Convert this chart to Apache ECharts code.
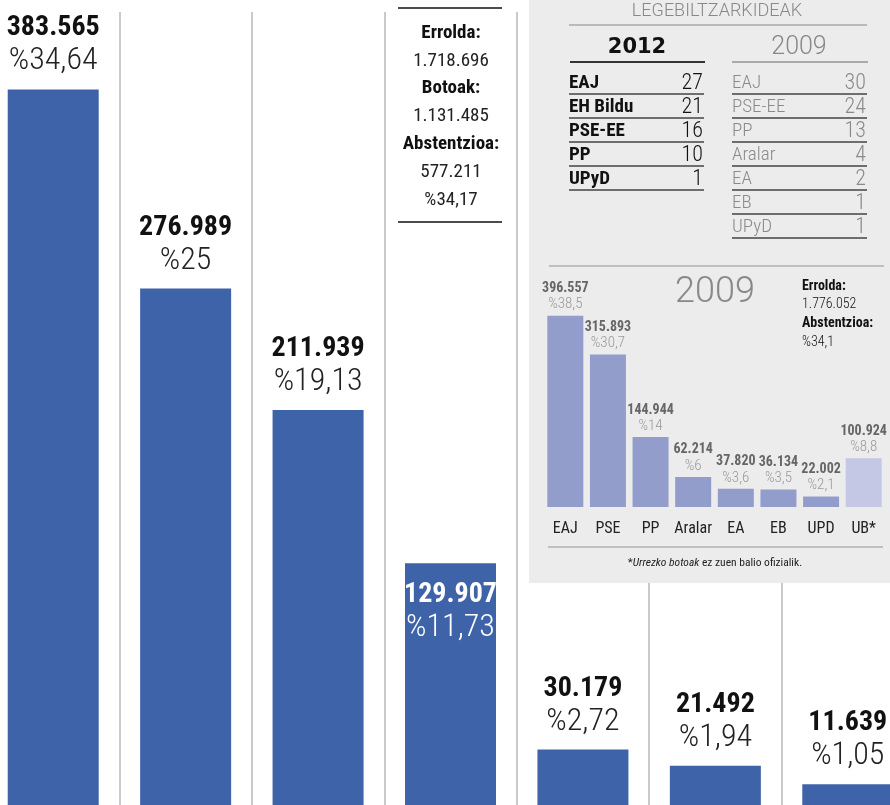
<!DOCTYPE html>
<html>
<head>
<meta charset="utf-8">
<script src="https://cdn.jsdelivr.net/npm/echarts@6/dist/echarts.min.js"></script>
<style>
  html, body { margin: 0; padding: 0; background: #fff; }
  #chart { width: 890px; height: 805px; }
</style>
</head>
<body>
<div id="chart"></div>
<script>
// 2012 emaitzak (botoak eta ehunekoak)
var parties2012 = ['EAJ', 'EH Bildu', 'PSE-EE', 'PP', 'EB', 'UPyD', 'Equo'];
var votes2012 = [383565, 276989, 211939, 129907, 30179, 21492, 11639];
var pct2012 = [34.64, 25, 19.13, 11.73, 2.72, 1.94, 1.05];

// 2012 laburpena
var summaryLabels = ['Errolda:', 'Botoak:', 'Abstentzioa:'];
var summaryValues = [['1.718.696'], ['1.131.485'], ['577.211', '%34,17']];

// legebiltzarkideak
var seatParties2012 = ['EAJ', 'EH Bildu', 'PSE-EE', 'PP', 'UPyD'];
var seats2012 = [27, 21, 16, 10, 1];
var seatParties2009 = ['EAJ', 'PSE-EE', 'PP', 'Aralar', 'EA', 'EB', 'UPyD'];
var seats2009 = [30, 24, 13, 4, 2, 1, 1];

// 2009 emaitzak
var parties2009 = ['EAJ', 'PSE', 'PP', 'Aralar', 'EA', 'EB', 'UPD', 'UB*'];
var votes2009 = [396557, 315893, 144944, 62214, 37820, 36134, 22002, 100924];
var pct2009 = [38.5, 30.7, 14, 6, 3.6, 3.5, 2.1, 8.8];
var census2009 = '1.776.052';
var abst2009 = '%34,1';

(function () {
  var myChart = echarts.init(document.getElementById('chart'));
  var NARROW = "'Roboto Condensed', 'Open Sans', sans-serif";
  var LIGHT = "Roboto, 'Liberation Sans', sans-serif";

  function fmt(v) {
    return String(v).replace(/\B(?=(\d{3})+(?!\d))/g, '.');
  }
  function fmtPct(v) {
    return '%' + String(v).replace('.', ',');
  }

  // PP barraren testua barruan, zuriz
  var mainData = votes2012.map(function (v, i) {
    if (i === 3) {
      return { value: v, label: { position: 'insideTop', distance: 16 } };
    }
    return v;
  });

  var graphics = [];
  // gris koadroa
  graphics.push({
    type: 'rect', z: 1, silent: true,
    shape: { x: 529, y: 0, width: 361, height: 583 },
    style: { fill: '#ebeceb' }
  });

  // erdiko laburpena
  graphics.push({ type: 'line', z: 10, shape: { x1: 398, y1: 8, x2: 502, y2: 8 }, style: { stroke: '#111', lineWidth: 1.5 } });
  var yy = 33;
  summaryLabels.forEach(function (lab, i) {
    graphics.push({
      type: 'text', z: 10, x: 451, y: yy,
      style: { text: lab, font: 'bold 19px ' + NARROW, fill: '#111', align: 'center', verticalAlign: 'middle' }
    });
    yy += 27.8;
    summaryValues[i].forEach(function (val) {
      graphics.push({
        type: 'text', z: 10, x: 451, y: yy,
        style: { text: val, font: '19px ' + NARROW, fill: '#222', align: 'center', verticalAlign: 'middle' }
      });
      yy += 27.8;
    });
  });
  graphics.push({ type: 'line', z: 10, shape: { x1: 398, y1: 222, x2: 502, y2: 222 }, style: { stroke: '#111', lineWidth: 1.5 } });

  // LEGEBILTZARKIDEAK
  graphics.push({
    type: 'text', z: 10, x: 717, y: 11,
    style: { text: 'LEGEBILTZARKIDEAK', font: '300 18px ' + LIGHT, fill: '#888', align: 'center', verticalAlign: 'middle' }
  });
  graphics.push({ type: 'line', z: 10, shape: { x1: 569, y1: 25, x2: 867, y2: 25 }, style: { stroke: '#aaa', lineWidth: 1.5 } });
  graphics.push({
    type: 'text', z: 10, x: 637, y: 48,
    style: { text: '2012', font: 'bold 21px "DejaVu Sans", sans-serif', fill: '#111', align: 'center', verticalAlign: 'middle' }
  });
  graphics.push({ type: 'line', z: 10, shape: { x1: 570, y1: 62, x2: 705, y2: 62 }, style: { stroke: '#333', lineWidth: 2 } });
  graphics.push({
    type: 'text', z: 10, x: 799, y: 48,
    style: { text: '2009', font: '300 25px ' + LIGHT, fill: '#888', align: 'center', verticalAlign: 'middle' }
  });
  graphics.push({ type: 'line', z: 10, shape: { x1: 732, y1: 62, x2: 868, y2: 62 }, style: { stroke: '#aaa', lineWidth: 2 } });

  function seatTable(names, seats, x0, x1, bold, color) {
    names.forEach(function (n, i) {
      var cy = 83 + i * 24;
      graphics.push({
        type: 'text', z: 10, x: x0, y: cy,
        style: { text: n, font: (bold ? 'bold ' : '300 ') + '19px ' + NARROW, fill: color, align: 'left', verticalAlign: 'middle' }
      });
      graphics.push({
        type: 'text', z: 10, x: x1, y: cy,
        style: { text: String(seats[i]), font: '300 22px ' + NARROW, fill: color, align: 'right', verticalAlign: 'middle' }
      });
      graphics.push({
        type: 'line', z: 10, shape: { x1: x0, y1: cy + 11, x2: x1 + 1, y2: cy + 11 },
        style: { stroke: '#444', lineWidth: 1.3 }
      });
    });
  }
  seatTable(seatParties2012, seats2012, 569, 703, true, '#111');
  seatTable(seatParties2009, seats2009, 732, 866, false, '#8a8a8a');

  // 2009 grafikoa
  graphics.push({ type: 'line', z: 10, shape: { x1: 549, y1: 266, x2: 884, y2: 266 }, style: { stroke: '#b0b0b0', lineWidth: 1.5 } });
  graphics.push({
    type: 'text', z: 10, x: 715, y: 293,
    style: { text: '2009', font: '300 36px ' + LIGHT, fill: '#888', align: 'center', verticalAlign: 'middle' }
  });
  [['Errolda:', true], [census2009, false], ['Abstentzioa:', true], [abst2009, false]].forEach(function (t, i) {
    graphics.push({
      type: 'text', z: 10, x: 802, y: 286 + i * 18.7,
      style: { text: t[0], font: (t[1] ? 'bold ' : '300 ') + '14px ' + NARROW, fill: '#111', align: 'left', verticalAlign: 'middle' }
    });
  });
  graphics.push({ type: 'line', z: 10, shape: { x1: 548, y1: 547, x2: 883, y2: 547 }, style: { stroke: '#b0b0b0', lineWidth: 1.5 } });
  graphics.push({
    type: 'text', z: 10, x: 715, y: 563,
    style: {
      text: '{s|*}{i|Urrezko botoak}{s| ez zuen balio ofizialik.}',
      align: 'center', verticalAlign: 'middle',
      rich: {
        s: { font: '11.5px ' + NARROW, fill: '#222' },
        i: { font: 'italic 11.5px ' + NARROW, fill: '#222' }
      }
    }
  });

  var option = {
    animation: false,
    backgroundColor: '#fff',
    grid: [
      { left: -13, right: -24, top: 12, bottom: -1, outerBoundsMode: 'none' },
      { left: 544, right: 5, top: 314, bottom: 298, outerBoundsMode: 'none' }
    ],
    xAxis: [{
      type: 'category',
      gridIndex: 0,
      data: parties2012,
      axisLine: { show: false },
      axisTick: { show: false },
      axisLabel: { show: false },
      splitLine: { show: true, interval: 0, lineStyle: { color: '#cacaca', width: 2 } }
    }, {
      type: 'category',
      gridIndex: 1,
      z: 10,
      data: parties2009,
      axisLine: { show: false },
      axisTick: { show: false },
      axisLabel: { interval: 0, color: '#222', fontSize: 16, fontFamily: NARROW, margin: 14 },
      splitLine: { show: false }
    }],
    yAxis: [{
      type: 'value', gridIndex: 0, min: 0, max: 425000, show: false
    }, {
      type: 'value', gridIndex: 1, min: 0, max: 400000, show: false
    }],
    series: [{
      name: '2012',
      type: 'bar',
      xAxisIndex: 0,
      yAxisIndex: 0,
      barWidth: 91,
      itemStyle: { color: '#3f63a8' },
      label: {
        show: true,
        position: 'top',
        distance: 11,
        formatter: function (p) {
          var w = p.dataIndex === 3 ? 'w' : '';
          return '{n' + w + '|' + fmt(votes2012[p.dataIndex]) + '}\n{p' + w + '|' + fmtPct(pct2012[p.dataIndex]) + '}';
        },
        rich: {
          n: { fontSize: 28, fontWeight: 'bold', fontFamily: NARROW, color: '#111', lineHeight: 32, align: 'center' },
          p: { fontSize: 32, fontWeight: 300, fontFamily: NARROW, color: '#222', lineHeight: 34, align: 'center' },
          nw: { fontSize: 28, fontWeight: 'bold', fontFamily: NARROW, color: '#fff', lineHeight: 32, align: 'center' },
          pw: { fontSize: 32, fontWeight: 300, fontFamily: NARROW, color: '#fff', lineHeight: 34, align: 'center' }
        }
      },
      data: mainData
    }, {
      name: '2009',
      type: 'bar',
      xAxisIndex: 1,
      yAxisIndex: 1,
      z: 5,
      barWidth: 36,
      itemStyle: {
        color: function (p) {
          return parties2009[p.dataIndex] === 'UB*' ? '#c5c8e4' : '#939dcb';
        }
      },
      label: {
        show: true,
        position: 'top',
        distance: 3,
        formatter: function (p) {
          return '{n|' + fmt(votes2009[p.dataIndex]) + '}\n{p|' + fmtPct(pct2009[p.dataIndex]) + '}';
        },
        rich: {
          n: { fontSize: 14, fontWeight: 'bold', fontFamily: NARROW, color: '#666', lineHeight: 16, align: 'center' },
          p: { fontSize: 15, fontWeight: 300, fontFamily: NARROW, color: '#999', lineHeight: 16, align: 'center' }
        }
      },
      data: votes2009
    }],
    graphic: { elements: graphics }
  };

  myChart.setOption(option);

  window.addEventListener('resize', function () {
    myChart.resize();
  });
})();
</script>
</body>
</html>
